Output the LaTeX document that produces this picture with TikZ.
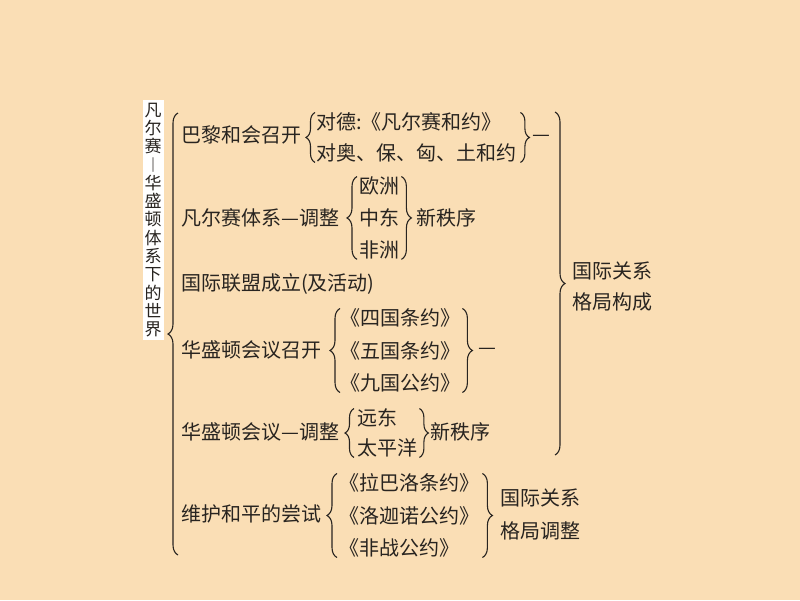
\documentclass[tikz,border=0pt]{standalone}
\usepackage{fontspec}
\newfontfamily\cjk{Noto Sans CJK SC}
\usetikzlibrary{positioning,calc,decorations.pathreplacing}
\definecolor{peach}{RGB}{250,222,181}
\definecolor{ink}{RGB}{40,36,32}

\begin{document}
\begin{tikzpicture}[x=1pt,y=-1pt]
    \tikzstyle{every node}=[inner sep=0,anchor=west,text=ink,font=\cjk\fontsize{20}{20}\selectfont]
    \tikzstyle{brc}=[draw=ink,line width=1.1pt,decorate,decoration={brace,amplitude=9}]
    \tikzstyle{bigbrc}=[draw=ink,line width=1.1pt,decorate,decoration={brace,amplitude=10}]
    \tikzstyle{titlebox}=[anchor=center,fill=white,minimum width=21,minimum height=240,align=center,
        font=\cjk\fontsize{17}{18.3}\selectfont]
    \fill[peach] (0,0) rectangle (800,600);
    \useasboundingbox (0,0) rectangle (800,600);
    {
        \node[titlebox] (ttl) at (153,220) {凡\\尔\\赛\\︱\\华\\盛\\顿\\体\\系\\下\\的\\世\\界};

        % first half
        \node (p1) at (181,135) {巴黎和会召开};
        \node (p1a) at (316,122) {对德:《凡尔赛和约》};
        \node (p1b) at (316,153) {对奥、保、匈、土和约};
        \node (p1d) at (532,138) {—};
        \draw[brc] ([xshift=-1]p1b.south west) -- ([xshift=-1]p1a.north west);
        \draw[brc] ($(p1b.east |- p1a.north)+(4,0)$) -- ($(p1b.south east)+(4,0)$);

        \node (p2) at (181,218) {凡尔赛体系—调整};
        \node (p2a) at (359,186) {欧洲};
        \node (p2b) at (359,218) {中东};
        \node (p2c) at (359,250) {非洲};
        \node (p2d) at (416,218) {新秩序};
        \draw[bigbrc] ([xshift=-2]p2c.south west) -- ([xshift=-2]p2a.north west);
        \draw[bigbrc] ($(p2b.east |- p2a.north)+(2,0)$) -- ($(p2b.east |- p2c.south)+(2,0)$);

        \node (p3) at (181,284) {国际联盟成立(及活动)};

        % second half
        \node (p4) at (181,350) {华盛顿会议召开};
        \node (p4a) at (340,318) {《四国条约》};
        \node (p4b) at (340,351) {《五国条约》};
        \node (p4c) at (340,383) {《九国公约》};
        \node (p4d) at (478,351) {—};
        \draw[bigbrc] (p4c.south west) -- (p4a.north west);
        \draw[bigbrc] ($(p4a.north east)+(2,0)$) -- ($(p4a.east |- p4c.south)+(2,0)$);

        \node (p5) at (181,432) {华盛顿会议—调整};
        \node (p5a) at (357,418) {远东};
        \node (p5b) at (357,448) {太平洋};
        \node (p5d) at (430,432) {新秩序};
        \draw[brc] ([xshift=-3]p5b.south west) -- ([xshift=-3]p5a.north west);
        \draw[brc] ($(p5b.east |- p5a.north)+(2,0)$) -- ($(p5b.south east)+(2,0)$);

        \node (p6) at (181,514) {维护和平的尝试};
        \node (p6a) at (339,483) {《拉巴洛条约》};
        \node (p6b) at (339,516) {《洛迦诺公约》};
        \node (p6c) at (339,548) {《非战公约》};
        \node (p6d) at (500,498) {国际关系};
        \node (p6e) at (500,531) {格局调整};
        \draw[bigbrc] ([xshift=-2]p6c.south west) -- ([xshift=-2]p6a.north west);
        \draw[bigbrc] ($(p6a.north east)+(3,0)$) -- ($(p6a.east |- p6c.south)+(3,0)$);

        % outer braces
        \node (res1) at (572,271) {国际关系};
        \node (res2) at (572,302) {格局构成};
        \coordinate (rtop) at (555,112);
        \coordinate (rbot) at (555,455);
        \draw[bigbrc] (rtop) -- (rbot);
        \draw[bigbrc] ($(p6.west)+(-3,41)$) -- ($(p1.west)+(-3,-22)$);
    }
\end{tikzpicture}
\end{document}
